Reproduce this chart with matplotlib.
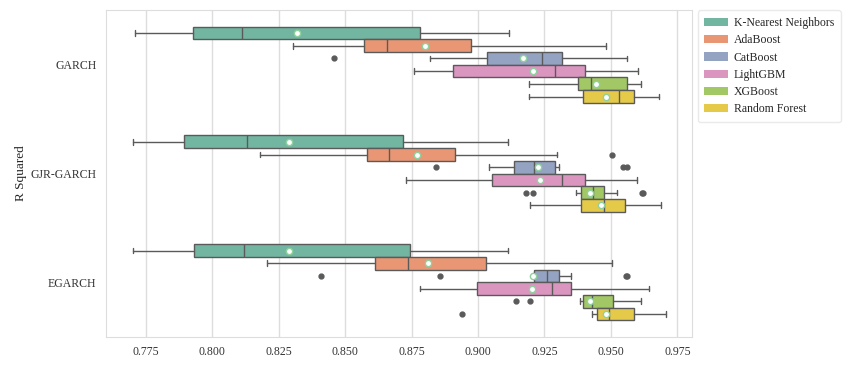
import numpy as np
import matplotlib
matplotlib.use("Agg")
from matplotlib import pyplot as plt
from matplotlib.patches import Patch
import seaborn as sns

# categories and models
volModels = ["GARCH", "GJR-GARCH", "EGARCH"]
mlModels = ["K-Nearest Neighbors", "AdaBoost", "CatBoost", "LightGBM", "XGBoost", "Random Forest"]

# box statistics, one list per volatility model,
# each entry in the order of mlModels: (whislo, q1, med, q3, whishi, mean)
statsGARCH = [
    (0.7711, 0.7928, 0.8110, 0.8780, 0.9118, 0.8317),
    (0.8304, 0.8570, 0.8657, 0.8974, 0.9482, 0.8799),
    (0.8820, 0.9033, 0.9241, 0.9316, 0.9561, 0.9170),
    (0.8758, 0.8905, 0.9291, 0.9401, 0.9602, 0.9206),
    (0.9190, 0.9377, 0.9424, 0.9561, 0.9612, 0.9444),
    (0.9190, 0.9395, 0.9531, 0.9587, 0.9680, 0.9480),
]
statsGJR = [
    (0.7700, 0.7892, 0.8129, 0.8717, 0.9114, 0.8288),
    (0.8180, 0.8581, 0.8665, 0.8914, 0.9297, 0.8769),
    (0.9043, 0.9136, 0.9211, 0.9289, 0.9303, 0.9224),
    (0.8730, 0.9052, 0.9315, 0.9401, 0.9598, 0.9235),
    (0.9370, 0.9388, 0.9433, 0.9473, 0.9522, 0.9420),
    (0.9195, 0.9388, 0.9474, 0.9553, 0.9689, 0.9462),
]
statsEGARCH = [
    (0.7702, 0.7932, 0.8118, 0.8743, 0.9114, 0.8289),
    (0.8207, 0.8612, 0.8736, 0.9031, 0.9503, 0.8811),
    (0.9205, 0.9212, 0.9260, 0.9304, 0.9351, 0.9206),
    (0.8783, 0.8996, 0.9279, 0.9350, 0.9644, 0.9204),
    (0.9383, 0.9395, 0.9429, 0.9506, 0.9612, 0.9423),
    (0.9429, 0.9447, 0.9492, 0.9585, 0.9706, 0.9483),
]
# outliers
fliersGARCH = [[], [], [0.8459], [], [], []]
fliersGJR = [[], [0.9504], [0.8843, 0.9547, 0.9561], [], [0.9180, 0.9206, 0.9616, 0.9620], []]
fliersEGARCH = [[], [], [0.8408, 0.8858, 0.9555, 0.9560], [], [0.9144, 0.9195], [0.8938]]

allStats = [statsGARCH, statsGJR, statsEGARCH]
allFliers = [fliersGARCH, fliersGJR, fliersEGARCH]

sns.set_style("whitegrid")
plt.rcParams['font.family'] = ['Liberation Serif', 'DejaVu Serif']
plt.rcParams['font.size'] = 8.5

cores = sns.color_palette("Set2", len(mlModels), desat=0.75)
edge = "#5a5a5a"

fig, ax = plt.subplots(figsize=(8.48, 3.72), dpi=100)

nModels = len(mlModels)
boxW = 0.70 / nModels
for g, (stats, fliers) in enumerate(zip(allStats, allFliers)):
    for m in range(nModels):
        lo, q1, med, q3, hi, mean = stats[m]
        pos = g - 0.35 + boxW * (m + 0.5)
        d = dict(whislo=lo, q1=q1, med=med, q3=q3, whishi=hi, mean=mean, fliers=fliers[m])
        ax.bxp([d], positions=[pos], widths=boxW, vert=False, showmeans=True,
               patch_artist=True, manage_ticks=False,
               boxprops=dict(facecolor=cores[m], edgecolor=edge, linewidth=1),
               medianprops=dict(color=edge, linewidth=1),
               whiskerprops=dict(color=edge, linewidth=1),
               capprops=dict(color=edge, linewidth=1),
               capwidths=boxW * 0.45,
               flierprops=dict(marker='o', markerfacecolor=edge, markeredgecolor=edge,
                               markersize=3.5),
               meanprops=dict(marker='o', markerfacecolor='white',
                              markeredgecolor='#8fd19e', markersize=4.5))

ax.set_yticks(range(len(volModels)))
ax.set_yticklabels(volModels)
ax.set_ylim(len(volModels) - 0.5, -0.5)
ax.set_xlim(0.7600, 0.9805)
ax.set_xticks(np.arange(0.775, 0.976, 0.025))
ax.set_xticklabels(["%.3f" % v for v in np.arange(0.775, 0.976, 0.025)])
ax.grid(axis='y', visible=False)
ax.grid(axis='x', color='#dddddd', linewidth=1)
for s in ax.spines.values():
    s.set_color('#dddddd')
ax.tick_params(length=0, colors='#333333', pad=7)
ax.set_ylabel("R Squared", fontsize=9.5, labelpad=2)

handles = [Patch(facecolor=c, edgecolor='none') for c in cores]
leg = ax.legend(handles, mlModels, loc='upper left', bbox_to_anchor=(1.01, 1.0),
                fontsize=8.5, frameon=True, handlelength=2.0, handletextpad=0.5,
                labelspacing=0.45, borderpad=0.55, borderaxespad=0.0)
leg.get_frame().set_edgecolor('#e5e5e5')

plt.subplots_adjust(left=0.125, right=0.816, top=0.972, bottom=0.095)
plt.savefig("out.png", dpi=100)
